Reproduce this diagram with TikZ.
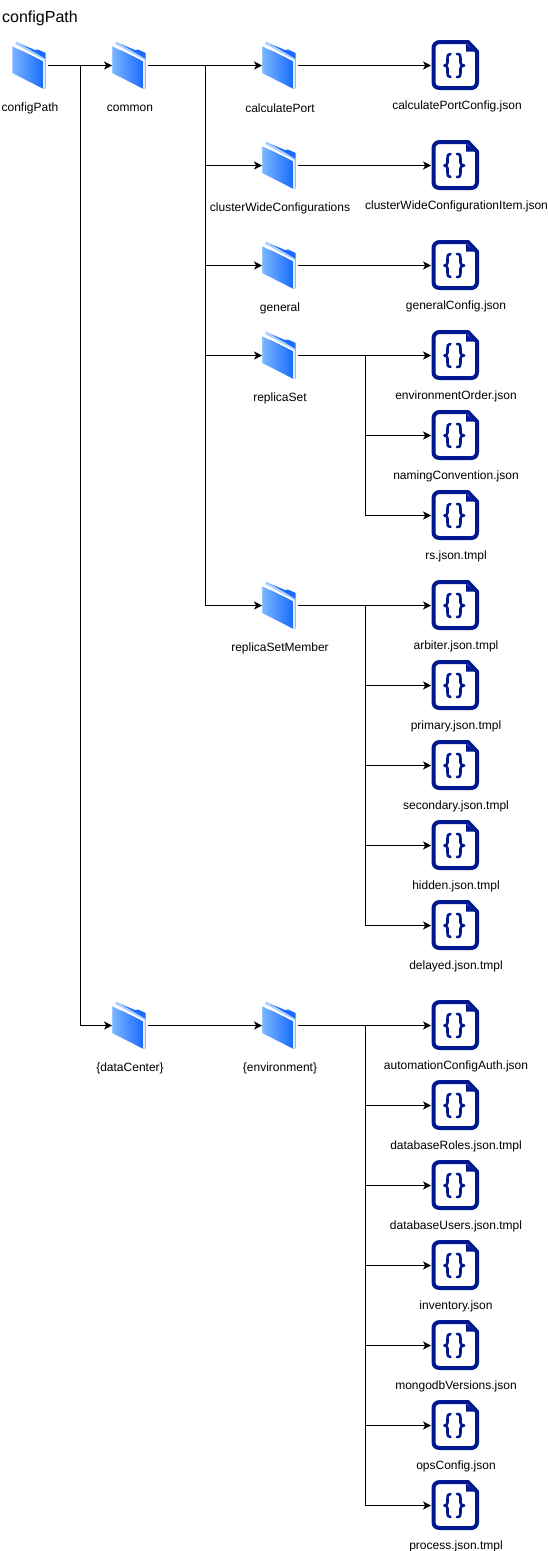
\documentclass[tikz,border=0pt]{standalone}
\usepackage{fontspec}
\setmainfont{Liberation Sans}
\usetikzlibrary{arrows.meta}
\definecolor{navy}{HTML}{00188F}
\definecolor{fldL}{HTML}{79B5FF}
\definecolor{fldR}{HTML}{1A6CFF}
\definecolor{fldS}{HTML}{A9CEFF}
\tikzset{
  folderbox/.style={rectangle,inner sep=0pt,outer sep=0pt,minimum width=36pt,minimum height=46pt},
  filebox/.style={rectangle,inner sep=0pt,outer sep=0pt,minimum width=48pt,minimum height=50pt},
  lbl/.style={inner sep=0pt,font=\fontsize{12}{14}\selectfont,anchor=center},
  titlelbl/.style={inner sep=0pt,font=\fontsize{16}{18}\selectfont,anchor=west},
  conn/.style={draw=black,line width=1pt},
  arr/.style={conn,-{Stealth[length=8pt,width=8pt,inset=2.2pt]}},
  iconline/.style={draw=navy,line width=4pt,line join=round},
  braceline/.style={draw=navy,line width=2.6pt,line cap=round,line join=round}
}
\newcommand{\folderitem}[4]{% name, x, y, label
  \node[folderbox] (#1) at (#2,#3) {};
  \begin{scope}[shift={(#2,#3+0.5)}]
    \fill[fldR] (-14,-24) -- (5,-16) -- (8,-16.5) -- (15.7,-13) -- (15.7,22) -- (13,22) -- cycle;
    \fill[fldS] (-14,-24.7) -- (15.7,-7) -- (15.7,22.7) -- (13,22.7) -- (13,-5) -- (-15,-21) -- cycle;
    \fill[white] (-15,-22) -- (14.6,-5.8) -- (14.6,22) -- (13,22) -- (13,-5) -- (-17.7,-20) -- cycle;
    \shade[left color=fldL,right color=fldR] (-17.7,-19.7) -- (13,-4.5) -- (13,22.7) -- (-17.7,7) -- cycle;
    \fill[fldS] (-17.7,-19.7) -- (-16.9,-19.3) -- (-16.9,7.4) -- (-17.7,7) -- cycle;
  \end{scope}
  \node[lbl] (#1-label) at (#2,#3+42.5) {#4};
}
\newcommand{\fileitem}[4]{% name, y, label, labelx
  \node[filebox] (#1) at (455,#2) {};
  \begin{scope}[shift={(455,#2)}]
    \path[iconline] (-15,-23.5) -- (13,-23.5) -- (22,-14) -- (22,16.5)
      .. controls (22,20.5) and (19.5,22.5) .. (16,22.5) -- (-15,22.5)
      .. controls (-19,22.5) and (-21.5,20.5) .. (-21.5,16.5) -- (-21.5,-17)
      .. controls (-21.5,-21) and (-19,-23.5) .. (-15,-23.5) -- cycle;
    \fill[navy] (11,-22) -- (11,-14) -- (20,-14) -- cycle;
    \path[braceline] (-4.5,-11.5) .. controls (-7.5,-11.5) and (-7.5,-10) .. (-7.5,-7) -- (-7.5,-3)
      .. controls (-7.5,-1) and (-8.5,-0.5) .. (-10.5,0)
      .. controls (-8.5,0.5) and (-7.5,1) .. (-7.5,3) -- (-7.5,7)
      .. controls (-7.5,10) and (-7.5,11.5) .. (-4.5,11.5);
    \path[braceline] (2,-11.5) .. controls (5.5,-11.5) and (5.5,-10) .. (5.5,-7) -- (5.5,-3)
      .. controls (5.5,-1) and (6.5,-0.5) .. (9,0)
      .. controls (6.5,0.5) and (5.5,1) .. (5.5,3) -- (5.5,7)
      .. controls (5.5,10) and (5.5,11.5) .. (2,11.5);
  \end{scope}
  \node[lbl] (#1-label) at (#4,#2+40.5) {#3};
}
\begin{document}
\begin{tikzpicture}[x=1pt,y=-1pt]
\useasboundingbox (0,0) rectangle (547,1551);
\node[titlelbl] (title) at (2,18) {configPath};

\folderitem{root}{30}{65.5}{configPath}
\folderitem{common}{130}{65.5}{common}
\folderitem{calc}{280}{65.5}{calculatePort}
\folderitem{cluster}{280}{165.5}{clusterWideConfigurations}
\folderitem{general}{280}{265.5}{general}
\folderitem{rs}{280}{355.5}{replicaSet}
\folderitem{rsm}{280}{605.5}{replicaSetMember}
\folderitem{dc}{130}{1025.5}{\{dataCenter\}}
\folderitem{env}{280}{1025.5}{\{environment\}}

\fileitem{f1}{65.5}{calculatePortConfig.json}{457}
\fileitem{f2}{165.5}{clusterWideConfigurationItem.json}{456.5}
\fileitem{f3}{265.5}{generalConfig.json}{456}
\fileitem{f4}{355.5}{environmentOrder.json}{456}
\fileitem{f5}{435.5}{namingConvention.json}{456}
\fileitem{f6}{515.5}{rs.json.tmpl}{456}
\fileitem{f7}{605.5}{arbiter.json.tmpl}{456}
\fileitem{f8}{685.5}{primary.json.tmpl}{456}
\fileitem{f9}{765.5}{secondary.json.tmpl}{456}
\fileitem{f10}{845.5}{hidden.json.tmpl}{456}
\fileitem{f11}{925.5}{delayed.json.tmpl}{456}
\fileitem{f12}{1025.5}{automationConfigAuth.json}{456}
\fileitem{f13}{1105.5}{databaseRoles.json.tmpl}{456}
\fileitem{f14}{1185.5}{databaseUsers.json.tmpl}{456}
\fileitem{f15}{1265.5}{inventory.json}{456}
\fileitem{f16}{1345.5}{mongodbVersions.json}{456}
\fileitem{f17}{1425.5}{opsConfig.json}{456}
\fileitem{f18}{1505.5}{process.json.tmpl}{456}

\coordinate (b1) at (80,65.5);
\coordinate (b2) at (205,65.5);
\coordinate (b3) at (365,355.5);
\coordinate (b4) at (365,605.5);
\coordinate (b5) at (365,1025.5);

\draw[arr] (root) -- (common);
\draw[arr] (b1) |- (dc);
\draw[arr] (common) -- (calc);
\draw[arr] (b2) |- (cluster);
\draw[arr] (b2) |- (general);
\draw[arr] (b2) |- (rs);
\draw[arr] (b2) |- (rsm);
\draw[arr] (dc) -- (env);
\draw[arr] (calc) -- (f1);
\draw[arr] (cluster) -- (f2);
\draw[arr] (general) -- (f3);
\draw[arr] (rs) -- (f4);
\draw[arr] (b3) |- (f5);
\draw[arr] (b3) |- (f6);
\draw[arr] (rsm) -- (f7);
\draw[arr] (b4) |- (f8);
\draw[arr] (b4) |- (f9);
\draw[arr] (b4) |- (f10);
\draw[arr] (b4) |- (f11);
\draw[arr] (env) -- (f12);
\draw[arr] (b5) |- (f13);
\draw[arr] (b5) |- (f14);
\draw[arr] (b5) |- (f15);
\draw[arr] (b5) |- (f16);
\draw[arr] (b5) |- (f17);
\draw[arr] (b5) |- (f18);
\end{tikzpicture}
\end{document}
